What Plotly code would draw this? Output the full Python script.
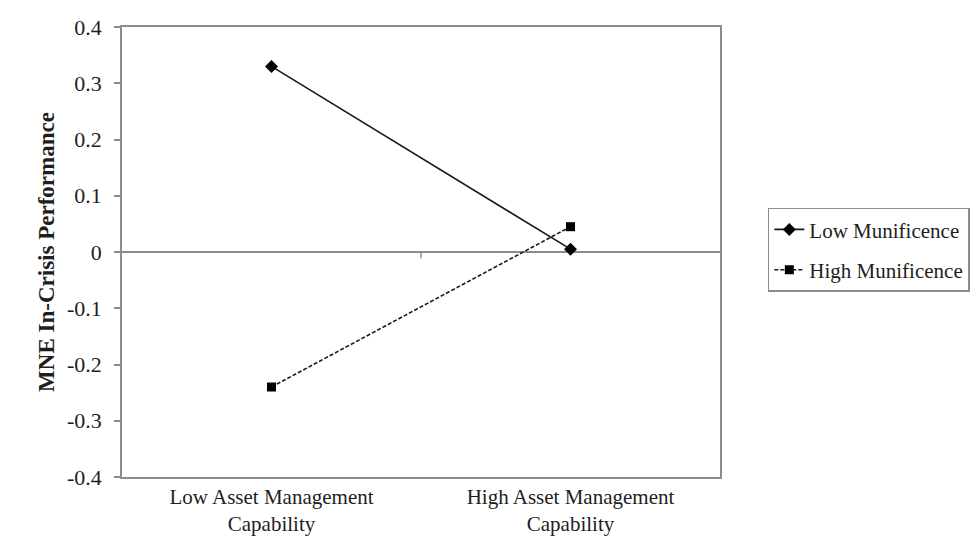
import plotly.graph_objects as go

categories = ["Low Asset Management<br>Capability", "High Asset Management<br>Capability"]
low_munificence = [0.33, 0.005]
high_munificence = [-0.24, 0.045]
series_names = ["Low Munificence", "High Munificence"]
y_ticks = [-0.4, -0.3, -0.2, -0.1, 0, 0.1, 0.2, 0.3, 0.4]
y_tick_labels = ["-0.4", "-0.3", "-0.2", "-0.1", "0", "0.1", "0.2", "0.3", "0.4"]

FONT = "Liberation Serif, Times New Roman, serif"
GREY = "#8c8c8c"
TXT = "#1e1e1e"

fig = go.Figure()
fig.add_trace(go.Scatter(
    x=categories, y=low_munificence, name=series_names[0], mode="lines+markers",
    line=dict(color="#1a1a1a", width=1.6),
    marker=dict(symbol="diamond", size=10, color="#000000"),
    legendgroup="a",
))
fig.add_trace(go.Scatter(
    x=categories, y=high_munificence, name=series_names[1], mode="lines+markers",
    line=dict(color="#1a1a1a", width=1.6, dash="4px,2px"),
    marker=dict(symbol="square", size=9, color="#000000"),
    legendgroup="b",
))

# small tick mark between categories on the zero line
fig.add_shape(type="line", xref="x", yref="y", x0=0.5, x1=0.5, y0=0, y1=-0.011,
              line=dict(color=GREY, width=1.5))

fig.update_layout(
    width=979, height=544,
    margin=dict(l=114, r=267, t=19, b=75, autoexpand=False),
    paper_bgcolor="white", plot_bgcolor="white",
    font=dict(family=FONT, size=21, color=TXT),
    showlegend=True,
    legend=dict(
        x=1.08, xanchor="left", y=0.505, yanchor="middle",
        bordercolor=GREY, borderwidth=1.5, bgcolor="white",
        font=dict(family=FONT, size=21, color=TXT),
        tracegroupgap=10, itemwidth=30,
    ),
    xaxis=dict(
        type="category", range=[-0.5, 1.5], automargin=False,
        showline=True, linecolor=GREY, linewidth=1.5, mirror=True,
        showgrid=False, ticks="", zeroline=False,
        tickfont=dict(family=FONT, size=21, color=TXT),
    ),
    yaxis=dict(
        range=[-0.4, 0.4], tickvals=y_ticks, ticktext=y_tick_labels, automargin=False,
        showline=True, linecolor=GREY, linewidth=1.5, mirror=True,
        showgrid=False, ticks="outside", ticklen=6, tickcolor=GREY, tickwidth=1.5,
        zeroline=True, zerolinecolor=GREY, zerolinewidth=1.5,
        ticklabelstandoff=8,
        tickfont=dict(family=FONT, size=22, color=TXT),
        title=dict(text="<b>MNE In-Crisis Performance</b>", standoff=6,
                   font=dict(family=FONT, size=23, color=TXT)),
    ),
)

fig.write_html("out.html")
